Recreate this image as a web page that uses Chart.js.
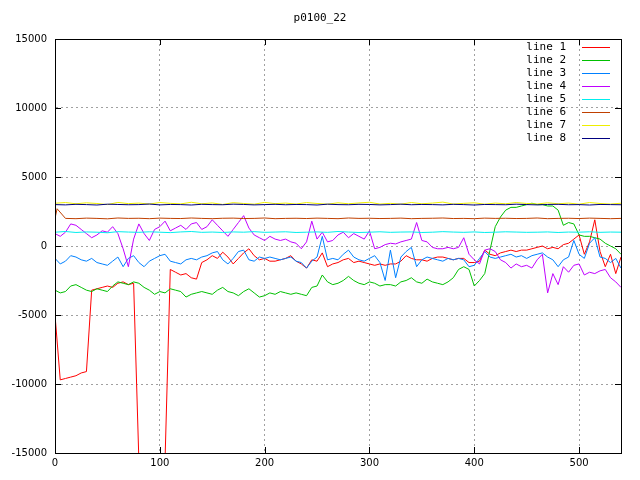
<!DOCTYPE html>
<html><head><meta charset="utf-8">
<script src="https://cdn.jsdelivr.net/npm/chart.js@4/dist/chart.umd.min.js"></script>
<style>html,body{margin:0;background:#fff}#w{width:640px;height:480px}</style>
</head><body><div id="w"><canvas id="c"></canvas></div>
<script>
const title = "p0100_22";
const labels = ["line 1","line 2","line 3","line 4","line 5","line 6","line 7","line 8"];
const colors = ["#ff0000","#00c000","#0080ff","#c000ff","#00eeee","#c04000","#eeee00","#000080"];
const yTicks = [-15000,-10000,-5000,0,5000,10000,15000];
const xTicks = [0,100,200,300,400,500];
const step5 = 5, step10 = 10;
const line1 = [-5000,-9700,-9600,-9500,-9400,-9200,-9100,-3200,-3100,-3000,-2900,-3000,-2700,-2600,-2800,-2700,-15500,-15500,-15500,-15500,-15500,-15500,-1700,-1900,-2100,-2000,-2300,-2400,-1200,-1000,-700,-900,-450,-800,-1300,-900,-500,-200,-700,-1000,-900,-1100,-1100,-1000,-900,-700,-1100,-1300,-1600,-1000,-1100,-500,-1500,-1300,-1200,-1000,-900,-1200,-1100,-1200,-1300,-1400,-1300,-1400,-1300,-1300,-1100,-700,-900,-1000,-1000,-1100,-900,-800,-800,-900,-1000,-900,-900,-1200,-1200,-1100,-300,-600,-700,-500,-400,-300,-400,-300,-300,-200,-100,0,-200,-100,-200,100,200,500,800,-600,300,1900,-400,-1500,-600,-2000,-800];
const line2 = [-3200,-3400,-3300,-2900,-2800,-3000,-3200,-3300,-3100,-3200,-3300,-2900,-2600,-2700,-2800,-2600,-2700,-3000,-3200,-3500,-3300,-3400,-3100,-3200,-3300,-3700,-3500,-3400,-3300,-3400,-3500,-3200,-3000,-3300,-3400,-3600,-3300,-3100,-3400,-3700,-3600,-3400,-3500,-3300,-3400,-3500,-3400,-3500,-3600,-3000,-2900,-2100,-2600,-2800,-2700,-2500,-2200,-2500,-2700,-2800,-2600,-2700,-2900,-2800,-2800,-2900,-2600,-2500,-2300,-2600,-2700,-2400,-2600,-2700,-2800,-2600,-2300,-1700,-1500,-1700,-2900,-2500,-2000,-300,1400,2100,2600,2800,2800,2900,3000,3100,3000,3000,2900,2900,2600,1500,1700,1600,800,700,700,600,500,200,0,-200,-600];
const line3 = [-900,-1300,-1100,-700,-800,-1000,-1100,-900,-1200,-1300,-1400,-1100,-800,-1500,-900,-700,-1200,-1500,-1100,-900,-700,-600,-1100,-1200,-1300,-1000,-900,-1000,-800,-700,-500,-400,-1000,-1300,-900,-400,-300,-1000,-1100,-800,-900,-800,-900,-1000,-900,-800,-1100,-1200,-1600,-1100,-800,700,-1000,-900,-1000,-600,-300,-800,-1000,-1100,-900,-700,-1200,-2500,-300,-2300,-800,-400,-100,-1500,-1000,-800,-900,-1000,-1100,-900,-1000,-900,-1000,-1500,-1400,-900,-400,-800,-900,-800,-700,-600,-800,-700,-900,-700,-600,-500,-800,-1000,-1500,-1000,-800,400,-600,-900,200,600,-800,-900,-1200,-900,-1600];
const line4 = [900,700,1000,1600,1500,1200,900,600,800,1100,1000,1400,900,-200,-1500,500,1600,900,400,1200,1400,1800,1100,1300,1500,1200,1600,1700,1200,1400,1900,1500,1100,700,1200,1700,2200,1300,800,600,400,700,500,400,500,300,200,-200,300,1800,500,1000,300,400,800,1000,600,900,700,500,1100,-200,-100,100,200,150,300,400,500,1700,400,300,-100,-200,-200,-100,-200,-100,600,-600,-1000,-1300,-300,-200,-400,-1000,-1200,-1600,-1300,-1500,-1400,-1600,-1000,-600,-3400,-2000,-2800,-1500,-1900,-1400,-1300,-2100,-1900,-2000,-1800,-1700,-2300,-2600,-3000];
const line5 = [1000,1050,980,1020,1000,960,1040,1010,990,1030,1000,970,1020,1050,990,1010,980,1020,1000,1040,990,1010,1030,980,1000,1020,990,1050,1010,980,1000,1030,990,1010,1020,980,1000,1040,1010,990,1020,980,1000,1030,1010,990,1000,1020,980,1010,1000,1030,990,1010,1000];
const line6 = [2000,2700,2000,1980,2020,2000,1970,2030,2000,2010,1980,2020,2000,1990,2030,2000,1980,2010,2020,1990,2000,2030,1980,2000,2010,1990,2020,2000,1980,2030,2000,2010,1990,2000,2020,1980,2000,2010,2030,1990,2000,1980,2020,2000,2010,1990,2000,2030,1980,2000,2010,1990,2020,2000,1980,2000];
const line7 = [3100,3150,3060,3130,3080,3000,3160,3070,3110,3040,3150,3090,3050,3170,3060,3120,3010,3140,3080,3030,3160,3070,3110,3040,3150,3080,3030,3130,3060,3120,3170,3040,3090,3030,3150,3060,3110,3180,3040,3090,3130,3030,3110,3060,3150,3080,3040,3130,3060,3110,3030,3150,3080,3040,3100];
const line8 = [3000,2980,3020,3000,2970,3030,3010,2990,3000,3040,2980,3010,3000,2970,3020,3000,2990,3030,3010,2980,3000,3020,2990,3010,3000,2970,3030,3000,2990,3020,3010,2980,3000,3030,2990,3010,3000,2980,3020,3000,2970,3010,3000,2990,3030,3000,2980,3010,3020,2990,3000,2970,3010,3000,2990];
const series = [[line1,step5],[line2,step5],[line3,step5],[line4,step5],[line5,step10],[line6,step10],[line7,step10],[line8,step10]];
const datasets = series.map(([vals,st],i)=>({
  label: labels[i],
  data: vals.map((v,j)=>({x: i===5 && j===1 ? 2 : (i===5 && j>1 ? (j-1)*st : j*st), y:v})),
  borderColor: colors[i], borderWidth: 1, pointRadius: 0, tension: 0, fill:false,
  order: 8-i
}));
const font = {family:"DejaVu Sans", size:10};
const deco = {
  id:'deco',
  afterDraw(ch){
    const c=ch.ctx, a=ch.chartArea;
    c.save();
    c.strokeStyle='#000'; c.lineWidth=1;
    c.strokeRect(a.left+0.5,a.top+0.5,a.right-a.left,a.bottom-a.top);
    c.font='11px "DejaVu Sans Mono"'; c.fillStyle='#000'; c.textBaseline='middle';
    c.textAlign='center'; c.fillText(title,320,18);
    c.textAlign='right';
    labels.forEach((l,i)=>{
      const y=47+i*13;
      c.fillStyle='#000';
      c.fillText(l,566,y);
      c.fillStyle=colors[i];
      c.fillRect(582,Math.round(y),28,1);
    });
    c.strokeStyle='#000';
    const xs=ch.scales.x, ys=ch.scales.y;
    xTicks.forEach(t=>{const p=Math.round(xs.getPixelForValue(t))+0.5;c.beginPath();c.moveTo(p,a.bottom);c.lineTo(p,a.bottom-6);c.moveTo(p,a.top);c.lineTo(p,a.top+6);c.stroke();});
    yTicks.forEach(t=>{const p=Math.round(ys.getPixelForValue(t))+0.5;c.beginPath();c.moveTo(a.left,p);c.lineTo(a.left+6,p);c.moveTo(a.right,p);c.lineTo(a.right-6,p);c.stroke();});
    c.restore();
  }
};
new Chart(document.getElementById('c'),{
  type:'line',
  data:{datasets},
  options:{
    responsive:true, maintainAspectRatio:false, animation:false,
    layout:{padding:{top:39,right:19,left:0,bottom:0}},
    plugins:{legend:{display:false},tooltip:{enabled:false}},
    scales:{
      x:{type:'linear',min:0,max:540,
        afterBuildTicks(s){s.ticks=xTicks.map(v=>({value:v}));},
        afterFit(s){s.height=27;},
        grid:{color:'#a0a0a0',lineWidth:1,drawTicks:false},
        border:{display:true,color:'rgba(0,0,0,0)',dash:[2,3]},
        ticks:{font,color:'#000',padding:4,maxRotation:0,callback:v=>String(v)}
      },
      y:{type:'linear',min:-15000,max:15000,
        afterBuildTicks(s){s.ticks=yTicks.map(v=>({value:v}));},
        afterFit(s){s.width=55;},
        grid:{color:'#a0a0a0',lineWidth:1,drawTicks:false},
        border:{display:true,color:'rgba(0,0,0,0)',dash:[2,3]},
        ticks:{font,color:'#000',padding:8,callback:v=>String(v)}
      }
    }
  },
  plugins:[deco]
});
</script></body></html>
